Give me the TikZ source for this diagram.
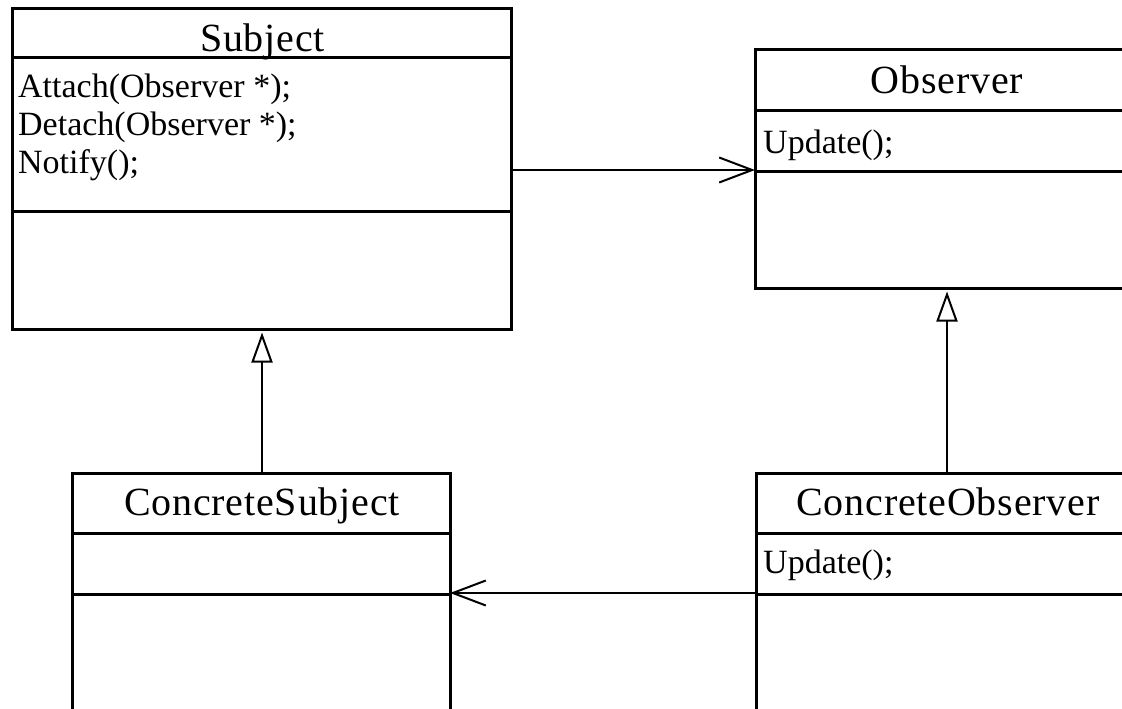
\documentclass[tikz,border=0pt]{standalone}
\usepackage{fontspec}
\setmainfont{Liberation Serif}
\newfontfamily\titlefont[LetterSpace=2]{Liberation Serif}
\usetikzlibrary{arrows.meta}
\tikzset{
  classbox/.style={draw, line width=3pt, rectangle, anchor=north west, inner sep=0pt, outer sep=0pt},
  sepline/.style={line width=3pt},
  titletext/.style={anchor=base, inner sep=0pt, font=\titlefont\fontsize{40}{46}\selectfont},
  membertext/.style={anchor=base west, inner sep=0pt, font=\fontsize{34}{38}\selectfont},
  assoc/.style={line width=2pt, -{Straight Barb[length=33pt, width=25pt, line width=2pt]}},
  inherit/.style={line width=2pt, -{Triangle[open, length=30pt, width=21pt, line width=2pt]}, shorten >=3.5pt}
}
\begin{document}
\begin{tikzpicture}[x=1pt,y=-1pt]
\useasboundingbox (0,0) rectangle (1122,709);
\clip (0,0) rectangle (1122,709);
\fill[white] (0,0) rectangle (1122,709);
% Subject
\node[classbox, minimum width=499pt, minimum height=320pt] (subj) at (12,9) {};
\draw[sepline] (subj.west |- 0,58) -- (subj.east |- 0,58);
\draw[sepline] (subj.west |- 0,211) -- (subj.east |- 0,211);
\node[titletext] (subjt) at (262.5,52) {Subject};
\node[membertext] (subjm1) at (18,97) {Attach(Observer *);};
\node[membertext] (subjm2) at (18,135) {Detach(Observer *);};
\node[membertext] (subjm3) at (18,173) {Notify();};
% Observer
\node[classbox, minimum width=382pt, minimum height=238pt] (obs) at (755,50) {};
\draw[sepline] (obs.west |- 0,110) -- (obs.east |- 0,110);
\draw[sepline] (obs.west |- 0,171) -- (obs.east |- 0,171);
\node[titletext] (obst) at (947,93) {Observer};
\node[membertext] (obsm1) at (763,153) {Update();};
% ConcreteSubject
\node[classbox, minimum width=378pt, minimum height=260pt] (csubj) at (72,473) {};
\draw[sepline] (csubj.west |- 0,533) -- (csubj.east |- 0,533);
\draw[sepline] (csubj.west |- 0,594) -- (csubj.east |- 0,594);
\node[titletext] (csubjt) at (262,515) {ConcreteSubject};
% ConcreteObserver
\node[classbox, minimum width=382pt, minimum height=260pt] (cobs) at (756,473) {};
\draw[sepline] (cobs.west |- 0,533) -- (cobs.east |- 0,533);
\draw[sepline] (cobs.west |- 0,594) -- (cobs.east |- 0,594);
\node[titletext] (cobst) at (948,515) {ConcreteObserver};
\node[membertext] (cobsm1) at (763,573) {Update();};
% connectors
\draw[assoc] (subj.east |- 0,170) -- (obs.west |- 0,170);
\draw[assoc] (cobs.west |- 0,593) -- (csubj.east |- 0,593);
\draw[inherit] (csubj.north -| 262,0) -- (subj.south -| 262,0);
\draw[inherit] (cobs.north -| 947,0) -- (obs.south -| 947,0);
\end{tikzpicture}
\end{document}
